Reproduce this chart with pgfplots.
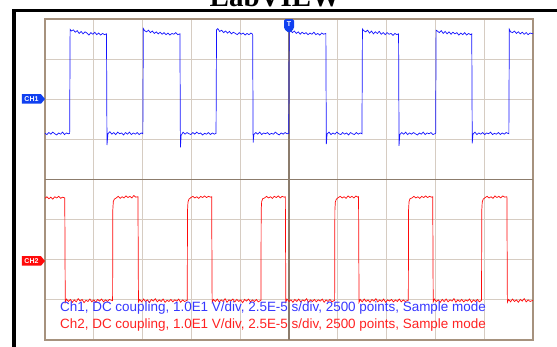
\documentclass[border=0pt]{standalone}
\usepackage{pgfplots}
\pgfplotsset{compat=1.18}
\usepackage{fontspec}
\setmainfont{Liberation Sans}
\newfontfamily\serifb{Liberation Serif}
\usetikzlibrary{shapes.symbols}
\definecolor{gridc}{RGB}{214,204,194}
\definecolor{centerc}{RGB}{140,124,108}
\definecolor{boxc}{RGB}{166,146,126}
\definecolor{chblue}{RGB}{20,20,255}
\definecolor{chred}{RGB}{255,10,10}
\definecolor{mkblue}{RGB}{16,64,240}
\begin{document}
\begin{tikzpicture}
\useasboundingbox (0,0) rectangle (557pt,347pt);
\fill[white] (0,0) rectangle (557pt,347pt);
\node[anchor=base, font=\serifb\bfseries\fontsize{29}{30}\selectfont] at (275pt,340pt) {LabVIEW};
\fill[black] (12pt,0) rectangle (16pt,337.5pt);
\fill[black] (12pt,334.5pt) rectangle (557pt,337.5pt);
\begin{axis}[at={(45pt,7pt)}, anchor=south west, scale only axis,
  width=488pt, height=321pt,
  xmin=0, xmax=10, ymin=-4, ymax=4,
  xtick={0,...,10}, ytick={-4,...,4},
  xticklabel=\empty, yticklabel=\empty,
  major tick length=0pt,
  grid=major, major grid style={color=gridc, line width=1.2pt},
  axis line style={color=boxc, line width=1.8pt},
  clip=false]
\draw[centerc, line width=1.2pt] (axis cs:5,-4) -- (axis cs:5,4);
\draw[centerc, line width=1.2pt] (axis cs:0,0) -- (axis cs:10,0);
% CH1
\addplot[chblue, line width=0.7pt] coordinates {
(0.00,1.15)(0.04,1.12)(0.08,1.17)(0.12,1.13)(0.16,1.18)(0.20,1.14)(0.24,1.11)(0.28,1.16)(0.32,1.13)(0.36,1.18)(0.40,1.12)(0.44,1.16)(0.48,1.14)(0.505,1.15)
(0.515,3.74)
(0.54,3.70)(0.58,3.73)(0.62,3.67)(0.66,3.71)(0.70,3.64)(0.74,3.69)(0.78,3.63)(0.82,3.68)(0.86,3.65)(0.90,3.60)(0.94,3.66)(0.98,3.62)(1.02,3.67)(1.06,3.61)(1.10,3.65)(1.14,3.60)(1.18,3.64)(1.22,3.61)(1.26,3.63)
(1.27,0.86)(1.29,1.14)
(1.33,1.19)(1.37,1.13)(1.41,1.17)(1.45,1.12)(1.49,1.18)(1.53,1.14)(1.57,1.16)(1.61,1.11)(1.65,1.17)(1.69,1.13)(1.73,1.18)(1.77,1.12)(1.81,1.16)(1.85,1.13)(1.89,1.17)(1.93,1.12)(1.97,1.16)(2.005,1.14)
(2.015,3.76)
(2.04,3.71)(2.08,3.68)(2.12,3.72)(2.16,3.66)(2.20,3.70)(2.24,3.64)(2.28,3.68)(2.32,3.63)(2.36,3.67)(2.40,3.62)(2.44,3.66)(2.48,3.61)(2.52,3.65)(2.56,3.60)(2.60,3.64)(2.64,3.62)(2.68,3.66)(2.72,3.61)(2.765,3.63)
(2.775,0.80)(2.79,1.10)
(2.83,1.18)(2.87,1.13)(2.91,1.17)(2.95,1.14)(2.99,1.12)(3.03,1.17)(3.07,1.13)(3.11,1.18)(3.15,1.14)(3.19,1.16)(3.23,1.11)(3.27,1.15)(3.31,1.13)(3.35,1.17)(3.39,1.12)(3.43,1.16)(3.47,1.13)(3.505,1.15)
(3.515,3.73)
(3.54,3.76)(3.58,3.69)(3.62,3.72)(3.66,3.66)(3.70,3.70)(3.74,3.65)(3.78,3.69)(3.82,3.63)(3.86,3.67)(3.90,3.64)(3.94,3.61)(3.98,3.66)(4.02,3.62)(4.06,3.65)(4.10,3.60)(4.14,3.64)(4.18,3.61)(4.22,3.65)(4.255,3.62)
(4.265,0.92)(4.28,1.12)
(4.32,1.17)(4.36,1.13)(4.40,1.18)(4.44,1.12)(4.48,1.16)(4.52,1.14)(4.56,1.17)(4.60,1.12)(4.64,1.15)(4.68,1.13)(4.72,1.18)(4.76,1.14)(4.80,1.11)(4.84,1.16)(4.88,1.13)(4.92,1.17)(4.96,1.14)(4.995,1.15)
(5.005,3.70)
(5.03,3.72)(5.07,3.66)(5.11,3.70)(5.15,3.64)(5.19,3.68)(5.23,3.62)(5.27,3.67)(5.31,3.63)(5.35,3.66)(5.39,3.61)(5.43,3.65)(5.47,3.62)(5.51,3.67)(5.55,3.61)(5.59,3.64)(5.63,3.60)(5.67,3.65)(5.71,3.62)(5.755,3.64)
(5.765,0.88)(5.78,1.13)
(5.82,1.18)(5.86,1.12)(5.90,1.16)(5.94,1.13)(5.98,1.18)(6.02,1.14)(6.06,1.12)(6.10,1.17)(6.14,1.13)(6.18,1.16)(6.22,1.11)(6.26,1.17)(6.30,1.14)(6.34,1.12)(6.38,1.17)(6.42,1.13)(6.46,1.16)(6.495,1.14)
(6.505,3.75)
(6.53,3.71)(6.57,3.68)(6.61,3.72)(6.65,3.65)(6.69,3.70)(6.73,3.63)(6.77,3.68)(6.81,3.64)(6.85,3.69)(6.89,3.62)(6.93,3.66)(6.97,3.61)(7.01,3.66)(7.05,3.62)(7.09,3.64)(7.13,3.59)(7.17,3.64)(7.21,3.61)(7.245,3.63)
(7.255,0.84)(7.27,1.12)
(7.31,1.17)(7.35,1.13)(7.39,1.18)(7.43,1.12)(7.47,1.16)(7.51,1.13)(7.55,1.17)(7.59,1.14)(7.63,1.11)(7.67,1.16)(7.71,1.13)(7.75,1.18)(7.79,1.12)(7.83,1.16)(7.87,1.14)(7.91,1.17)(7.95,1.12)(8.005,1.15)
(8.015,3.72)
(8.04,3.70)(8.08,3.66)(8.12,3.71)(8.16,3.64)(8.20,3.69)(8.24,3.63)(8.28,3.68)(8.32,3.62)(8.36,3.67)(8.40,3.63)(8.44,3.66)(8.48,3.60)(8.52,3.65)(8.56,3.61)(8.60,3.66)(8.64,3.60)(8.68,3.64)(8.72,3.61)(8.745,3.63)
(8.755,0.90)(8.77,1.13)
(8.81,1.18)(8.85,1.12)(8.89,1.16)(8.93,1.13)(8.97,1.17)(9.01,1.12)(9.05,1.16)(9.09,1.14)(9.13,1.18)(9.17,1.12)(9.21,1.15)(9.25,1.13)(9.29,1.17)(9.33,1.12)(9.37,1.16)(9.41,1.13)(9.45,1.17)(9.505,1.14)
(9.515,3.74)
(9.54,3.68)(9.58,3.66)(9.62,3.70)(9.66,3.64)(9.70,3.68)(9.74,3.63)(9.78,3.67)(9.82,3.62)(9.86,3.66)(9.90,3.61)(9.94,3.65)(10.0,3.63)
};
% CH2
\addplot[chred, line width=0.7pt] coordinates {
(0.00,-0.47)(0.04,-0.43)(0.08,-0.48)(0.12,-0.44)(0.16,-0.49)(0.20,-0.43)(0.24,-0.46)(0.28,-0.42)(0.32,-0.47)(0.36,-0.44)(0.405,-0.46)
(0.415,-3.06)
(0.44,-2.98)(0.48,-3.04)(0.52,-2.99)(0.56,-3.06)(0.60,-3.00)(0.64,-3.05)(0.68,-2.97)(0.72,-3.03)(0.76,-2.99)(0.80,-3.07)(0.84,-3.01)(0.88,-3.04)(0.92,-2.98)(0.96,-3.05)(1.00,-3.00)(1.04,-3.06)(1.08,-2.99)(1.12,-3.03)(1.16,-2.98)(1.20,-3.05)(1.24,-3.00)(1.28,-3.04)(1.32,-2.99)(1.385,-3.02)
(1.39,-0.75)(1.40,-0.55)(1.42,-0.49)
(1.46,-0.46)(1.50,-0.42)(1.54,-0.47)(1.58,-0.43)(1.62,-0.46)(1.66,-0.41)(1.70,-0.45)(1.74,-0.42)(1.78,-0.46)(1.82,-0.40)(1.86,-0.44)(1.905,-0.43)
(1.915,-3.05)
(1.94,-2.99)(1.98,-3.05)(2.02,-2.98)(2.06,-3.04)(2.10,-3.00)(2.14,-3.07)(2.18,-2.99)(2.22,-3.03)(2.26,-2.97)(2.30,-3.05)(2.34,-3.00)(2.38,-3.04)(2.42,-2.98)(2.46,-3.06)(2.50,-3.01)(2.54,-3.04)(2.58,-2.99)(2.62,-3.05)(2.66,-3.00)(2.70,-3.03)(2.74,-2.98)(2.78,-3.06)(2.82,-3.00)(2.86,-3.04)(2.915,-3.01)
(2.92,-0.78)(2.93,-0.56)(2.95,-0.49)
(2.99,-0.45)(3.03,-0.42)(3.07,-0.46)(3.11,-0.43)(3.15,-0.47)(3.19,-0.42)(3.23,-0.45)(3.27,-0.41)(3.31,-0.45)(3.35,-0.42)(3.39,-0.44)(3.415,-0.43)
(3.425,-3.06)
(3.45,-2.99)(3.49,-3.04)(3.53,-2.98)(3.57,-3.05)(3.61,-3.00)(3.65,-3.04)(3.69,-2.97)(3.73,-3.06)(3.77,-3.00)(3.81,-3.03)(3.85,-2.98)(3.89,-3.05)(3.93,-2.99)(3.97,-3.04)(4.01,-3.00)(4.05,-3.07)(4.09,-2.99)(4.13,-3.03)(4.17,-2.98)(4.21,-3.05)(4.25,-3.00)(4.29,-3.04)(4.33,-2.99)(4.37,-3.05)(4.425,-3.01)
(4.43,-0.76)(4.44,-0.55)(4.46,-0.48)
(4.50,-0.46)(4.54,-0.42)(4.58,-0.46)(4.62,-0.43)(4.66,-0.47)(4.70,-0.42)(4.74,-0.45)(4.78,-0.41)(4.82,-0.46)(4.86,-0.42)(4.90,-0.44)(4.925,-0.43)
(4.935,-3.05)
(4.96,-2.98)(5.00,-3.04)(5.04,-3.00)(5.08,-3.06)(5.12,-2.99)(5.16,-3.04)(5.20,-2.98)(5.24,-3.05)(5.28,-3.00)(5.32,-3.03)(5.36,-2.97)(5.40,-3.06)(5.44,-3.00)(5.48,-3.04)(5.52,-2.99)(5.56,-3.05)(5.60,-3.00)(5.64,-3.03)(5.68,-2.98)(5.72,-3.06)(5.76,-3.00)(5.80,-3.04)(5.84,-2.99)(5.88,-3.05)(5.935,-3.01)
(5.94,-0.77)(5.95,-0.56)(5.97,-0.49)
(6.01,-0.45)(6.05,-0.42)(6.09,-0.46)(6.13,-0.43)(6.17,-0.47)(6.21,-0.41)(6.25,-0.45)(6.29,-0.42)(6.33,-0.46)(6.37,-0.41)(6.41,-0.44)(6.425,-0.43)
(6.435,-3.06)
(6.46,-2.99)(6.50,-3.05)(6.54,-2.98)(6.58,-3.04)(6.62,-3.00)(6.66,-3.06)(6.70,-2.99)(6.74,-3.03)(6.78,-2.97)(6.82,-3.05)(6.86,-3.00)(6.90,-3.04)(6.94,-2.98)(6.98,-3.06)(7.02,-3.00)(7.06,-3.03)(7.10,-2.99)(7.14,-3.05)(7.18,-3.00)(7.22,-3.04)(7.26,-2.98)(7.30,-3.05)(7.34,-3.00)(7.38,-3.04)(7.445,-3.01)
(7.45,-0.76)(7.46,-0.55)(7.48,-0.48)
(7.52,-0.46)(7.56,-0.42)(7.60,-0.46)(7.64,-0.43)(7.68,-0.47)(7.72,-0.42)(7.76,-0.45)(7.80,-0.41)(7.84,-0.45)(7.88,-0.42)(7.92,-0.44)(7.945,-0.43)
(7.955,-3.05)
(7.98,-2.98)(8.02,-3.04)(8.06,-3.00)(8.10,-3.06)(8.14,-2.99)(8.18,-3.04)(8.22,-2.98)(8.26,-3.05)(8.30,-3.00)(8.34,-3.03)(8.38,-2.97)(8.42,-3.06)(8.46,-3.00)(8.50,-3.04)(8.54,-2.99)(8.58,-3.05)(8.62,-3.00)(8.66,-3.03)(8.70,-2.98)(8.74,-3.06)(8.78,-3.00)(8.82,-3.04)(8.86,-2.99)(8.90,-3.05)(8.945,-3.01)
(8.95,-0.77)(8.96,-0.56)(8.98,-0.49)
(9.02,-0.45)(9.06,-0.42)(9.10,-0.46)(9.14,-0.43)(9.18,-0.47)(9.22,-0.41)(9.26,-0.45)(9.30,-0.42)(9.34,-0.46)(9.38,-0.41)(9.42,-0.44)(9.465,-0.43)
(9.475,-3.06)
(9.50,-2.99)(9.54,-3.05)(9.58,-2.98)(9.62,-3.04)(9.66,-3.00)(9.70,-3.06)(9.74,-2.99)(9.78,-3.03)(9.82,-2.97)(9.86,-3.05)(9.90,-3.00)(9.94,-3.04)(10.0,-3.01)
};
\end{axis}
% channel markers
\node[signal, signal to=east, signal pointer angle=100, fill=mkblue, text=white,
  font=\bfseries\fontsize{7}{7}\selectfont, minimum width=23pt, minimum height=9.5pt,
  inner sep=0.5pt] at (31.5pt,248pt) {CH1};
\node[signal, signal to=east, signal pointer angle=100, fill=chred, text=white,
  font=\bfseries\fontsize{7}{7}\selectfont, minimum width=23pt, minimum height=9.5pt,
  inner sep=0.5pt] at (31.5pt,86pt) {CH2};
\node[signal, signal to=south, signal pointer angle=100, fill=mkblue, text=white,
  font=\bfseries\fontsize{7}{7}\selectfont, minimum width=10pt, minimum height=12pt,
  inner sep=0.5pt, rounded corners=1.5pt] at (289pt,323pt) {T};
% info text
\node[anchor=base west, text=chblue!85!white, font=\fontsize{13.45}{15}\selectfont, inner sep=0pt]
  at (60pt,35pt) {Ch1, DC coupling, 1.0E1 V/div, 2.5E-5 s/div, 2500 points, Sample mode};
\node[anchor=base west, text=chred!90!white, font=\fontsize{13.45}{15}\selectfont, inner sep=0pt]
  at (60pt,18pt) {Ch2, DC coupling, 1.0E1 V/div, 2.5E-5 s/div, 2500 points, Sample mode};
\end{tikzpicture}
\end{document}
